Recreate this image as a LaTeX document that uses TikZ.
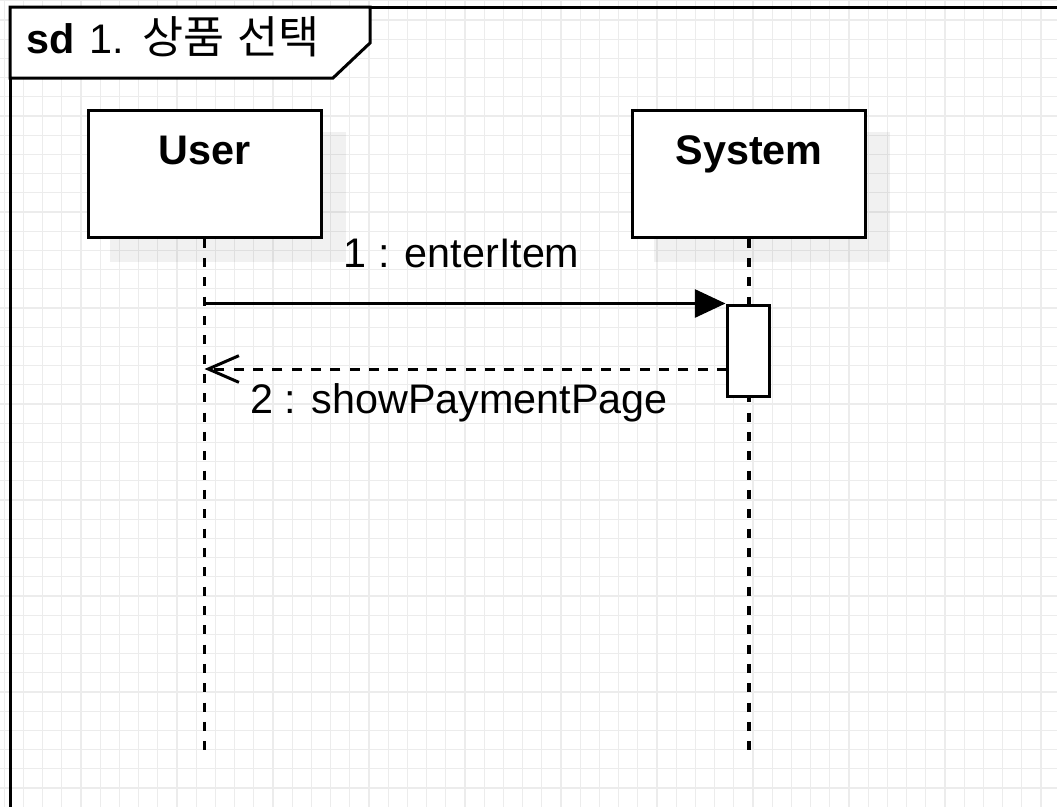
\documentclass[tikz,border=0pt]{standalone}
\usepackage{fontspec}
\setmainfont{Liberation Sans}
\newfontfamily\krfont[Scale=1.08]{Noto Sans CJK KR}
\usetikzlibrary{arrows.meta,calc}
\definecolor{gridc}{RGB}{236,236,236}
\tikzset{
  gridline/.style={draw=gridc, line width=0.9pt},
  frameline/.style={draw=black, line width=2.25pt},
  lifebox/.style={draw=black, fill=white, line width=2.25pt, minimum width=174.75pt, minimum height=95.25pt, inner sep=0pt},
  shadowbox/.style={fill=black, fill opacity=0.055},
  actbox/.style={draw=black, fill=white, line width=2.25pt, minimum width=31.5pt, minimum height=68.25pt, inner sep=0pt},
  lifeline/.style={draw=black, line width=2.6pt, dash pattern=on 6.9pt off 7.6pt},
  callmsg/.style={draw=black, line width=2.25pt, -{Triangle[length=23pt,width=21pt]}},
  retmsg/.style={draw=black, line width=2.25pt, dash pattern=on 7.5pt off 7pt, -{Straight Barb[length=23pt,width=20pt]}},
  boxlabel/.style={font=\fontsize{31pt}{37pt}\selectfont\bfseries, anchor=base, inner sep=0pt},
  msglabel/.style={font=\fontsize{31pt}{37pt}\selectfont, anchor=base, inner sep=0pt},
}
\begin{document}
\begin{tikzpicture}[x=0.75pt, y=-0.75pt]
\useasboundingbox (0,0) rectangle (1057,807);
\clip (0,0) rectangle (1057,807);
\fill[white] (0,0) rectangle (1057,807);
% grid
\foreach \i in {0,...,55} {
  \draw[gridline] ({4.1+19.2*\i},0) -- ({4.1+19.2*\i},807);
}
\foreach \j in {0,...,42} {
  \draw[gridline] (0,{0.8+19.2*\j}) -- (1057,{0.8+19.2*\j});
}
% frame
\draw[frameline] (10,900) -- (10,7) -- (1200,7);
\draw[frameline, fill=white] (10,7) -- (370,7) -- (370,43) -- (333,78) -- (10,78) -- cycle;
\node[msglabel, anchor=base west] (title) at (26,53) {{\bfseries sd}\hspace{3pt} 1.\hspace{2pt} {\krfont 상품\hspace{2pt} 선택}};
% lifeline boxes
\node[lifebox] (user) at (204.5,173.5) {};
\node[lifebox] (system) at (749,173.5) {};
% shadows
\fill[shadowbox] ($(user.north west)+(23,23)$) rectangle ($(user.south east)+(23,23)$);
\fill[shadowbox] ($(system.north west)+(23,23)$) rectangle ($(system.south east)+(23,23)$);
\node[lifebox] at (user) {};
\node[lifebox] at (system) {};
\node[boxlabel] (userlbl) at (204.5,164) {User};
\node[boxlabel] (systemlbl) at (749,164) {System};
% lifelines
\coordinate (uend) at (204.5,757);
\coordinate (send) at (749,757);
\draw[lifeline] (user.south) -- (uend);
\draw[lifeline] (system.south) -- (send);
% activation
\node[actbox] (act) at (748,350.5) {};
% messages
\coordinate (m1s) at (user.south |- act.north);
\draw[callmsg] (m1s) -- (act.north west);
\coordinate (m2s) at (727,369);
\coordinate (m2e) at (user.south |- m2s);
\draw[retmsg] (m2s) -- (m2e);
\node[msglabel] (l1) at (461.5,267) {1 : enterItem};
\node[msglabel] (l2) at (459,413) {2 : showPaymentPage};
\end{tikzpicture}
\end{document}
